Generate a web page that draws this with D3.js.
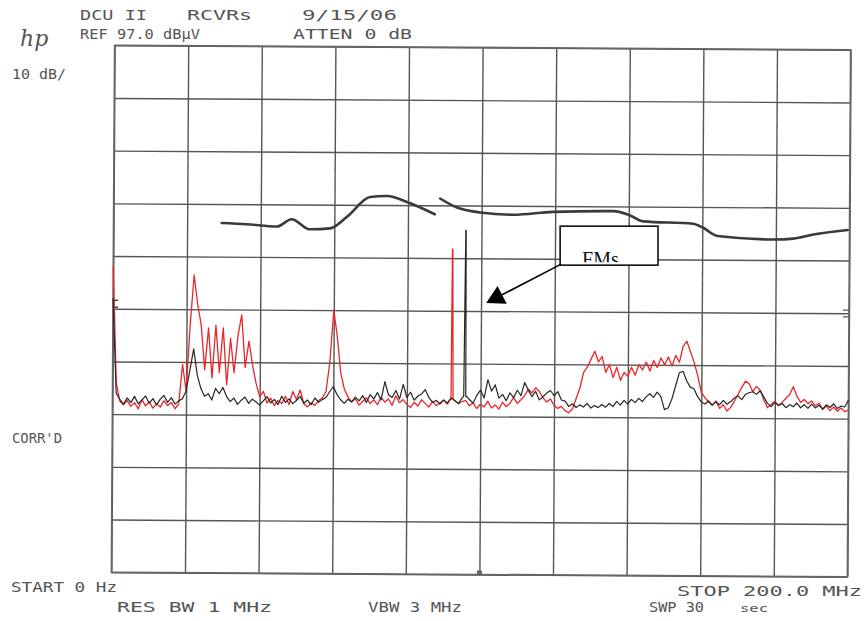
<!DOCTYPE html>
<html>
<head>
<meta charset="utf-8">
<script src="https://cdn.jsdelivr.net/npm/d3@7"></script>
<style>
  body { margin: 0; background: #fff; }
  .hpt { font-family: "DejaVu Sans Mono", monospace; fill: #555; }
</style>
</head>
<body>
<svg id="chart" width="867" height="621"></svg>
<script>
// analyzer settings
var startMHz = 0, stopMHz = 200, stepMHz = 1;
var refLevel = 97, dbPerDiv = 10, nDiv = 10;

// trace A (red) dBuV, one value per MHz 0..200
var redTrace = [
  55, 33, 29.5, 28.8, 29.6, 28.5, 29.2, 28.0, 29.8, 28.6,
  29.4, 28.2, 29.0, 28.4, 29.6, 28.7, 29.3, 28.1, 29.0, 36.5,
  31.5, 44, 53.5, 48, 44, 35.5, 43.5, 34, 44, 35,
  43.5, 32.7, 41.5, 35, 42, 46, 36, 41, 36.5, 33,
  30.5, 31.5, 29.3, 30.2, 28.8, 29.8, 29.2, 30.6, 29.0, 31.5,
  30.0, 31.8, 29.2, 28.6, 29.4, 28.9, 29.8, 30.3, 31.5, 37,
  47, 42, 35, 32, 30.5, 29.6, 30.2, 29.0, 29.7, 30.4,
  29.3, 30.0, 29.1, 30.5, 29.6, 30.2, 29.0, 30.8, 29.5, 30.1,
  29.2, 28.6, 29.6, 28.9, 30.1, 29.4, 28.7, 29.8, 29.0, 29.5,
  30.0, 29.3, 30.2, 30.0, 29.4, 29.8, 30.0, 29.0, 29.6, 28.5,
  29.3, 28.8, 29.9, 28.6, 29.2, 28.4, 29.7, 28.9, 29.5, 30.6,
  29.5, 30.2, 31.0, 32.2, 31.5, 32.5, 31.8, 30.6, 29.8, 30.4,
  29.2, 28.6, 29.0, 28.2, 27.8, 28.5, 30.5, 32.5, 35.5, 36.5,
  38, 39.5, 37.5, 38.5, 35.5, 37, 34.5, 36.5, 34.0, 35.5,
  34.8, 36.5, 35.0, 37.0, 36.0, 37.5, 35.8, 37.8, 36.5, 38.3,
  37.0, 38.5, 36.8, 38.8, 37.5, 40.5, 41.5, 39.5, 37.5, 35.0,
  31.8, 30.8, 30.0, 29.4, 30.2, 28.8, 29.5, 28.3, 29.0, 30.2,
  31.5, 32.8, 34.0, 33.5, 32.0, 33.0, 32.3, 30.5, 29.0, 29.6,
  30.2, 29.4, 30.0, 30.8, 31.5, 33.0, 31.2, 30.0, 30.6, 29.8,
  30.3, 29.4, 29.9, 28.7, 29.4, 28.5, 29.2, 28.4, 29.0, 28.3,
  28.6
];

// trace B (black) dBuV
var blackTrace = [
  49, 31, 29.8, 28.9, 30.1, 29.2, 30.4, 29.0, 29.7, 30.5,
  29.1, 30.0, 28.8, 29.9, 30.6, 29.3, 30.2, 29.0, 29.6, 30.0,
  31.5, 35.5, 39.5, 34.5, 32.0, 30.5, 31.0, 29.8, 32.0, 31.0,
  32.2, 30.5, 29.5, 30.2, 29.0, 29.8, 30.4, 29.2, 30.0, 29.5,
  28.9, 29.7, 30.5, 29.3, 30.0, 29.0, 30.6, 29.4, 30.1, 29.2,
  29.8, 30.6, 29.3, 29.9, 29.0, 30.3, 29.5, 30.0, 30.4, 31.5,
  32.5, 31.0, 30.0, 29.3, 30.1, 29.6, 30.5, 29.8, 30.8, 29.5,
  31.0, 30.2, 31.4, 30.0, 33.5, 31.0, 30.5, 31.8, 30.2, 33.0,
  30.5, 31.5, 30.0, 30.8, 31.2, 32.0, 30.5, 29.6, 30.0, 29.3,
  30.1, 29.5, 30.5, 30.0, 29.4, 30.5, 30.8, 30.2, 29.5, 31.0,
  32.0, 30.5, 34.0, 31.8, 33.0, 30.5, 31.2, 30.0, 31.5, 30.6,
  32.0, 31.0, 33.5, 32.0, 30.8, 31.8, 30.2, 30.8, 31.5, 32.0,
  31.0, 31.8, 30.2, 30.0, 29.0, 29.5, 28.8, 29.3, 28.9, 29.6,
  28.7, 29.2, 28.8, 29.4, 28.9, 29.6, 29.0, 30.0, 29.3, 30.2,
  29.5, 30.4, 29.8, 30.6, 30.0, 30.9, 31.5, 30.8, 31.8, 31.0,
  28.5, 28.8, 30.5, 33.0, 35.5, 35.8, 34.0, 32.8, 32.5, 31.0,
  30.0, 29.6, 30.2, 29.4, 30.0, 29.5, 30.3, 29.6, 30.1, 30.8,
  31.2, 30.5, 31.5, 31.8, 32.0, 31.5, 32.2, 31.0, 29.8, 29.2,
  30.0, 29.4, 29.8, 29.0, 29.6, 29.2, 29.9, 29.0, 29.6, 28.9,
  29.7, 29.0, 29.5, 28.8, 29.6, 29.1, 29.8, 28.9, 29.4, 29.2,
  30.5
];

// FM carriers (narrow spikes)
var fmFreq = [92.2, 95.8];
var fmLevel = [58.7, 62.3];
var fmTrace = ["red", "black"];

// limit line, null = gap
var limitFreq = [29.4, 36.2, 44.4, 48.4, 53.3, 58.8, 63.4, 69.7, 74.3, 79.7, 87.3, null,
  88.7, 93.3, 99.6, 108.6, 119.5, 135.8, 140.4, 143.9, 157.5, 160.3, 164.1, 179.3, 184.8, 190.2, 199.5];
var limitLevel = [63.4, 63.2, 62.8, 64.2, 62.3, 62.5, 64.7, 68.5, 68.7, 67.6, 65.3, null,
  68.3, 66.6, 65.7, 65.3, 65.9, 66.1, 65.3, 64.2, 63.8, 63.0, 61.5, 60.9, 61.1, 61.9, 62.8];

var svg = d3.select("#chart"),
  margin = { top: 47.5, left: 113, bottom: 46.5, right: 18 },
  width = +svg.attr("width") - margin.left - margin.right,
  height = +svg.attr("height") - margin.top - margin.bottom;

var x = d3.scaleLinear().domain([startMHz, stopMHz]).range([margin.left, margin.left + width]);
var y = d3.scaleLinear()
  .domain([refLevel - nDiv * dbPerDiv, refLevel])
  .range([margin.top + height, margin.top]);

// the scan is slightly rotated
var plot = svg.append("g")
  .attr("transform", `rotate(0.35,${margin.left + width / 2},${margin.top + height / 2})`);

var xTicks = d3.range(0, nDiv + 1).map((i) => startMHz + i * (stopMHz - startMHz) / nDiv);
var yTicks = d3.range(0, nDiv + 1).map((i) => refLevel - i * dbPerDiv);

plot.append("g")
  .attr("class", "grid")
  .attr("transform", `translate(0,${margin.top + height})`)
  .call(d3.axisBottom(x).tickValues(xTicks).tickSize(-height).tickFormat(""));

plot.append("g")
  .attr("class", "grid")
  .attr("transform", `translate(${margin.left},0)`)
  .call(d3.axisLeft(y).tickValues(yTicks).tickSize(-width).tickFormat(""));

plot.selectAll(".grid .domain").remove();
plot.selectAll(".grid line").attr("stroke", "#555").attr("stroke-width", 1.4);

plot.append("rect")
  .attr("x", margin.left).attr("y", margin.top)
  .attr("width", width).attr("height", height)
  .attr("fill", "none").attr("stroke", "#666").attr("stroke-width", 1.6);

// center marker and ref marks
plot.append("rect")
  .attr("x", x(100) - 2.5).attr("y", y(-3) - 4)
  .attr("width", 5).attr("height", 4).attr("fill", "#666");

[47.6, 46.3].forEach(function (lv) {
  plot.append("line").attr("x1", x(200) - 6).attr("x2", x(200))
    .attr("y1", y(lv)).attr("y2", y(lv)).attr("stroke", "#555").attr("stroke-width", 1.2);
  plot.append("line").attr("x1", x(0)).attr("x2", x(0) + 5)
    .attr("y1", y(lv + 1)).attr("y2", y(lv + 1)).attr("stroke", "#333").attr("stroke-width", 1.4);
});

function tracePoints(vals, name) {
  var pts = vals.map((v, i) => [startMHz + i * stepMHz, v]);
  fmFreq.forEach(function (f, k) {
    if (fmTrace[k] !== name) return;
    var base = vals[Math.round(f / stepMHz)];
    pts.push([f - 0.35, base], [f - 0.05, fmLevel[k]], [f + 0.05, fmLevel[k]], [f + 0.35, base]);
  });
  return pts.sort((a, b) => a[0] - b[0]);
}

var line = d3.line().x((d) => x(d[0])).y((d) => y(d[1]));

plot.append("path")
  .datum(tracePoints(redTrace, "red"))
  .attr("d", line)
  .attr("fill", "none")
  .attr("stroke", "#e8262c")
  .attr("stroke-width", 1.3)
  .attr("stroke-linejoin", "round");

plot.append("path")
  .datum(tracePoints(blackTrace, "black"))
  .attr("d", line)
  .attr("fill", "none")
  .attr("stroke", "#262626")
  .attr("stroke-width", 1.2)
  .attr("stroke-linejoin", "round");

var limitLine = d3.line()
  .defined((d) => d[1] != null)
  .x((d) => x(d[0]))
  .y((d) => y(d[1]))
  .curve(d3.curveMonotoneX);

plot.append("path")
  .datum(limitFreq.map((f, i) => [f, limitLevel[i]]))
  .attr("d", limitLine)
  .attr("fill", "none")
  .attr("stroke", "#3a3a3a")
  .attr("stroke-width", 2.6)
  .attr("stroke-linecap", "round");

// instrument annotations
function label(t, px, py, len) {
  var el = svg.append("text").attr("class", "hpt")
    .attr("x", px).attr("y", py).attr("font-size", 14).text(t);
  if (len) el.attr("textLength", len).attr("lengthAdjust", "spacingAndGlyphs");
  return el;
}

label("DCU II", 80, 20, 67);
label("RCVRs", 187, 20, 65);
label("9/15/06", 302, 20, 95);
label("REF 97.0 dB\u00b5V", 80, 39, 120);
label("ATTEN 0 dB", 293, 39, 119);
label("10 dB/", 12, 79, 54);
label("CORR'D", 12, 443, 50);
label("START 0 Hz", 11, 592, 106);
label("RES BW 1 MHz", 117, 612, 155);
label("VBW 3 MHz", 368, 612, 94);
label("STOP 200.0 MHz", 677, 596, 185);
label("SWP 30", 649, 612, 55);
label("sec", 740, 612, 28).attr("font-size", 11);

svg.append("text")
  .attr("x", 20).attr("y", 46)
  .attr("font-family", "DejaVu Serif")
  .attr("font-style", "italic")
  .attr("font-size", 22)
  .attr("fill", "#555")
  .text("hp");

// FMs callout
var box = { f0: 121.5, f1: 148.1, l0: 63.1, l1: 55.7 };
var bx = x(box.f0), bw = x(box.f1) - x(box.f0), by = y(box.l0), bh = y(box.l1) - y(box.l0);
svg.append("clipPath").attr("id", "boxclip")
  .append("rect").attr("x", bx).attr("y", by).attr("width", bw).attr("height", bh - 3);
svg.append("rect")
  .attr("x", bx).attr("y", by).attr("width", bw).attr("height", bh)
  .attr("fill", "#fff").attr("stroke", "#000").attr("stroke-width", 1.5);
svg.append("text")
  .attr("clip-path", "url(#boxclip)")
  .attr("x", bx + 22).attr("y", by + bh + 1)
  .attr("font-family", "Liberation Serif")
  .attr("font-size", 20)
  .attr("fill", "#111")
  .text("FMs");

var tip = [x(101.4), y(48.5)];
var tail = [bx + 1, by + bh - 1];
var dx = tail[0] - tip[0], dy = tail[1] - tip[1], len = Math.hypot(dx, dy);
var ux = dx / len, uy = dy / len;
var back = [tip[0] + ux * 18, tip[1] + uy * 18];
svg.append("line")
  .attr("x1", tail[0]).attr("y1", tail[1])
  .attr("x2", back[0]).attr("y2", back[1])
  .attr("stroke", "#000").attr("stroke-width", 1.6);
svg.append("path")
  .attr("d", d3.line()([
    tip,
    [back[0] - uy * 10, back[1] + ux * 10],
    [back[0] + uy * 10, back[1] - ux * 10]
  ]) + "Z")
  .attr("fill", "#000");
</script>
</body>
</html>
